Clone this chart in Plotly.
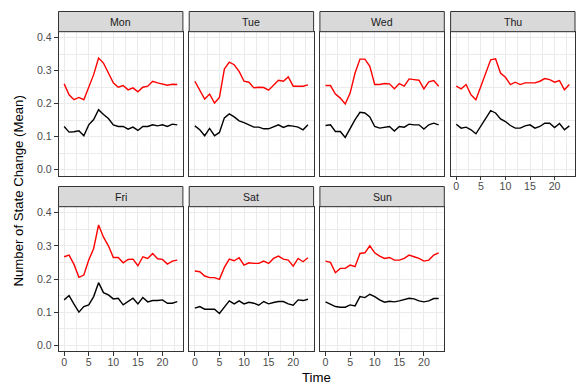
import plotly.graph_objects as go

W, H = 576, 385

hours = list(range(24))
days = ["Mon", "Tue", "Wed", "Thu", "Fri", "Sat", "Sun"]

mon_red = [0.260, 0.227, 0.212, 0.219, 0.212, 0.250, 0.288, 0.338, 0.323, 0.293, 0.263, 0.250,
           0.255, 0.242, 0.248, 0.236, 0.250, 0.253, 0.268, 0.263, 0.260, 0.256, 0.259, 0.258]
mon_black = [0.131, 0.114, 0.115, 0.118, 0.103, 0.136, 0.152, 0.182, 0.167, 0.155, 0.136, 0.131,
             0.131, 0.123, 0.129, 0.119, 0.131, 0.131, 0.136, 0.133, 0.136, 0.131, 0.138, 0.136]
tue_red = [0.268, 0.240, 0.214, 0.229, 0.202, 0.219, 0.305, 0.326, 0.318, 0.298, 0.268, 0.265,
           0.248, 0.250, 0.249, 0.241, 0.255, 0.271, 0.268, 0.281, 0.253, 0.253, 0.253, 0.257]
tue_black = [0.133, 0.121, 0.103, 0.125, 0.103, 0.113, 0.157, 0.169, 0.160, 0.148, 0.143, 0.136,
             0.129, 0.129, 0.124, 0.124, 0.131, 0.136, 0.128, 0.134, 0.132, 0.129, 0.121, 0.136]
wed_red = [0.255, 0.255, 0.229, 0.217, 0.199, 0.232, 0.293, 0.335, 0.335, 0.313, 0.258, 0.258,
           0.261, 0.260, 0.245, 0.261, 0.253, 0.275, 0.273, 0.271, 0.245, 0.266, 0.270, 0.253]
wed_black = [0.134, 0.136, 0.116, 0.116, 0.098, 0.126, 0.152, 0.174, 0.172, 0.160, 0.131, 0.126,
             0.129, 0.131, 0.117, 0.131, 0.129, 0.138, 0.136, 0.136, 0.123, 0.136, 0.141, 0.136]
thu_red = [0.253, 0.245, 0.258, 0.227, 0.212, 0.253, 0.298, 0.333, 0.336, 0.293, 0.280, 0.258,
           0.265, 0.258, 0.263, 0.263, 0.263, 0.268, 0.276, 0.273, 0.265, 0.270, 0.242, 0.258]
thu_black = [0.138, 0.126, 0.129, 0.121, 0.109, 0.131, 0.154, 0.179, 0.172, 0.154, 0.146, 0.134,
             0.126, 0.126, 0.133, 0.136, 0.126, 0.131, 0.141, 0.141, 0.128, 0.140, 0.121, 0.133]
fri_red = [0.267, 0.272, 0.244, 0.205, 0.212, 0.257, 0.292, 0.363, 0.326, 0.300, 0.265, 0.265,
           0.249, 0.259, 0.260, 0.240, 0.267, 0.262, 0.277, 0.261, 0.259, 0.245, 0.254, 0.257]
fri_black = [0.137, 0.150, 0.124, 0.100, 0.117, 0.122, 0.147, 0.189, 0.159, 0.152, 0.140, 0.142,
             0.122, 0.132, 0.142, 0.125, 0.144, 0.131, 0.135, 0.135, 0.137, 0.127, 0.127, 0.132]
sat_red = [0.224, 0.222, 0.209, 0.204, 0.204, 0.199, 0.235, 0.260, 0.255, 0.264, 0.242, 0.249,
           0.247, 0.247, 0.254, 0.247, 0.262, 0.269, 0.260, 0.257, 0.239, 0.262, 0.252, 0.264]
sat_black = [0.112, 0.117, 0.109, 0.109, 0.109, 0.096, 0.115, 0.134, 0.125, 0.134, 0.125, 0.130,
             0.127, 0.121, 0.132, 0.125, 0.129, 0.132, 0.132, 0.125, 0.121, 0.137, 0.135, 0.139]
sun_red = [0.254, 0.250, 0.219, 0.232, 0.232, 0.242, 0.237, 0.277, 0.279, 0.300, 0.279, 0.269,
           0.262, 0.265, 0.257, 0.257, 0.262, 0.272, 0.267, 0.262, 0.254, 0.257, 0.272, 0.279]
sun_black = [0.131, 0.124, 0.117, 0.115, 0.115, 0.122, 0.119, 0.147, 0.144, 0.154, 0.147, 0.137,
             0.130, 0.133, 0.131, 0.134, 0.137, 0.142, 0.140, 0.134, 0.131, 0.134, 0.141, 0.141]

red_series = [mon_red, tue_red, wed_red, thu_red, fri_red, sat_red, sun_red]
black_series = [mon_black, tue_black, wed_black, thu_black, fri_black, sat_black, sun_black]

x_ticks = [0, 5, 10, 15, 20]
y_ticks = [0.0, 0.1, 0.2, 0.3, 0.4]
y_tick_labels = ["0.0", "0.1", "0.2", "0.3", "0.4"]

# layout geometry (pixels)
col_left = [58.5, 189.2, 319.9, 450.6]
panel_w = 124.4
rows = [(31.7, 175.7, 11.5), (206.7, 351.3, 186.5)]  # plot top, plot bottom, strip top

FONT = "Liberation Sans, Arial, Helvetica, sans-serif"
TICK_FONT = dict(family=FONT, size=10.6, color="#4D4D4D")

fig = go.Figure()
layout = {}
shapes = []
annotations = []

for i, day in enumerate(days):
    r, c = divmod(i, 4)
    top, bot, stop = rows[r]
    left = col_left[c]
    right = left + panel_w
    n = i + 1
    xa = "x" if n == 1 else f"x{n}"
    ya = "y" if n == 1 else f"y{n}"
    xkey = "xaxis" if n == 1 else f"xaxis{n}"
    ykey = "yaxis" if n == 1 else f"yaxis{n}"

    fig.add_trace(go.Scatter(x=hours, y=red_series[i], mode="lines",
                             line=dict(color="#FF0000", width=1.4),
                             xaxis=xa, yaxis=ya, showlegend=False, hoverinfo="skip"))
    fig.add_trace(go.Scatter(x=hours, y=black_series[i], mode="lines",
                             line=dict(color="#000000", width=1.4),
                             xaxis=xa, yaxis=ya, showlegend=False, hoverinfo="skip"))

    show_x = (r == 1) or (c == 3)
    show_y = (c == 0)

    layout[xkey] = dict(
        domain=[left / W, right / W], anchor=ya, range=[-1.15, 24.15],
        tickvals=x_ticks, ticktext=[str(v) for v in x_ticks],
        showticklabels=show_x, ticks="outside" if show_x else "",
        ticklen=3.7, tickwidth=1, tickcolor="#333333", tickfont=TICK_FONT,
        ticklabelstandoff=-3,
        showgrid=True, gridcolor="#EBEBEB", gridwidth=1,
        minor=dict(tickvals=[2.5, 7.5, 12.5, 17.5, 22.5], showgrid=True,
                   gridcolor="#EBEBEB", gridwidth=0.5, ticks=""),
        showline=True, linecolor="#333333", linewidth=1, mirror=True,
        zeroline=False, fixedrange=True,
    )
    layout[ykey] = dict(
        domain=[1 - bot / H, 1 - top / H], anchor=xa, range=[-0.018, 0.418],
        tickvals=y_ticks, ticktext=y_tick_labels,
        showticklabels=show_y, ticks="outside" if show_y else "",
        ticklen=3.7, tickwidth=1, tickcolor="#333333", tickfont=TICK_FONT,
        showgrid=True, gridcolor="#EBEBEB", gridwidth=1,
        minor=dict(tickvals=[0.05, 0.15, 0.25, 0.35], showgrid=True,
                   gridcolor="#EBEBEB", gridwidth=0.5, ticks=""),
        showline=True, linecolor="#333333", linewidth=1, mirror=True,
        zeroline=False, fixedrange=True,
    )

    # strip
    shapes.append(dict(type="rect", xref="paper", yref="paper",
                       x0=left / W, x1=right / W, y0=1 - top / H, y1=1 - stop / H,
                       fillcolor="#D9D9D9", line=dict(color="#333333", width=1), layer="above"))
    annotations.append(dict(text=day, xref="paper", yref="paper",
                            x=(left + right) / 2 / W, y=1 - (stop + top) / 2 / H,
                            xanchor="center", yanchor="middle", showarrow=False,
                            font=dict(family=FONT, size=10.6, color="#1A1A1A")))

annotations.append(dict(text="Time", xref="paper", yref="paper",
                        x=(col_left[0] + col_left[3] + panel_w) / 2 / W, y=1 - 377 / H,
                        xanchor="center", yanchor="middle", showarrow=False,
                        font=dict(family=FONT, size=13.2, color="#000000")))
annotations.append(dict(text="Number of State Change (Mean)", xref="paper", yref="paper",
                        x=18 / W, y=1 - ((31.7 + 351.3) / 2) / H, textangle=-90,
                        xanchor="center", yanchor="middle", showarrow=False,
                        font=dict(family=FONT, size=13.2, color="#000000")))

fig.update_layout(
    width=W, height=H, margin=dict(l=0, r=0, t=0, b=0),
    paper_bgcolor="white", plot_bgcolor="white",
    showlegend=False, shapes=shapes, annotations=annotations,
    **layout,
)

fig.write_html("out.html", config={"displayModeBar": False},
               post_script="document.body.style.margin='0';document.body.style.overflow='hidden';")
